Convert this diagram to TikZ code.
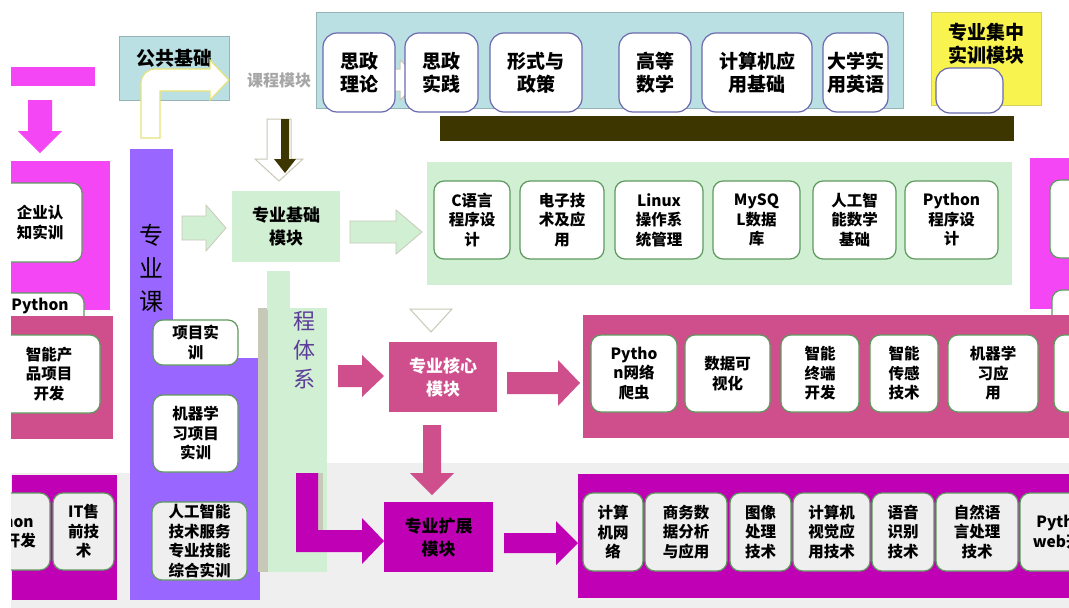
\documentclass[tikz,border=0pt]{standalone}
\usepackage{fontspec}
\setmainfont{Noto Sans CJK SC}
\definecolor{tealc}{HTML}{BBE0E3}
\definecolor{topb}{HTML}{6A6AB0}
\definecolor{olive2}{HTML}{3D3600}
\definecolor{yel}{HTML}{F8F34F}
\definecolor{magB}{HTML}{F446F4}
\definecolor{purp}{HTML}{9966FF}
\definecolor{lgreen}{HTML}{D1EFD3}
\definecolor{pinkc}{HTML}{CF4F8C}
\definecolor{magD}{HTML}{BF00B4}
\definecolor{lgray}{HTML}{EFEFEF}
\definecolor{bordg}{HTML}{5E9A5E}
\definecolor{arrl}{HTML}{C8C8B8}
\newcommand\boxfont{\fontsize{15.5}{19.5}\selectfont\bfseries}
\newcommand\topfont{\fontsize{19}{23}\selectfont\bfseries}
\newcommand\modfont{\fontsize{17}{23}\selectfont\bfseries}
\newcommand\boxat[7]{%
  \pgfmathsetmacro\bw{#5-#3}%
  \pgfmathsetmacro\bh{#6-#4}%
  \node[#1, minimum width=\bw pt, minimum height=\bh pt] (#2) at ({(#3+#5)/2},{(#4+#6)/2}) {#7};}
% horizontal block arrow: style, x1, x2, yc, shaft half, head half, head length
\newcommand\hbarrow[7]{\path[#1] (#2,#4-#5) -- (#3-#7,#4-#5) -- (#3-#7,#4-#6) -- (#3,#4) -- (#3-#7,#4+#6) -- (#3-#7,#4+#5) -- (#2,#4+#5) -- cycle;}
% vertical block arrow: style, y1, y2, xc, shaft half, head half, head length
\newcommand\vbarrow[7]{\path[#1] (#4-#5,#2) -- (#4-#5,#3-#7) -- (#4-#6,#3-#7) -- (#4,#3) -- (#4+#6,#3-#7) -- (#4+#5,#3-#7) -- (#4+#5,#2) -- cycle;}
\begin{document}
\begin{tikzpicture}[x=1pt,y=-1pt,
  panel/.style={inner sep=0pt, draw=none},
  rbox/.style={draw=bordg, line width=1.2pt, rounded corners=10pt, fill=white, align=center, inner sep=0pt, font=\boxfont, text=black},
  gbox/.style={rbox, fill=lgray},
  tbox/.style={rbox, draw=topb, rounded corners=14pt, font=\topfont},
  modbox/.style={panel, align=center, font=\modfont},
  whitearrow/.style={fill=white, draw=arrl, line width=1pt}]
\useasboundingbox (0,0) rectangle (1069,608);
\fill[white] (0,0) rectangle (1069,608);
% grey ground of the lower part
\fill[lgray] (11,473) rectangle (1069,608);
\fill[lgray] (282,463) rectangle (1069,473);

% ---------- top left ----------
\boxat{panel,fill=magB}{tlstripe}{11}{67}{95}{86}{}
\vbarrow{fill=magB}{100}{153}{40}{12}{22}{22}
\boxat{panel,fill=tealc,draw=tealc!80!black,line width=0.6pt}{gj}{119}{36}{229}{100}{}
\node[font=\topfont] (gjt) at (174,58) {公共基础};
\path[fill=white, draw=yel!60!arrl, line width=1.2pt]
  (141,138) -- (141,83) arc[start angle=180, end angle=270, radius=14] -- (210,69) -- (210,60) -- (229,80) -- (210,100) -- (210,91) -- (160,91) -- (160,138) -- cycle;
\node[font=\fontsize{16}{19}\selectfont\bfseries, text=gray!70] (kcmk) at (279,80) {课程模块};

% ---------- top panel ----------
\boxat{panel,fill=tealc,draw=tealc!80!black,line width=0.6pt}{toppanel}{316}{12}{903}{108}{}
\boxat{panel,fill=olive2}{olivebar}{440}{116}{1014}{141}{}
\hbarrow{whitearrow}{350}{422}{80}{11}{20}{22}
\boxat{tbox}{t1}{323}{33}{395}{112}{思政\\理论}
\boxat{tbox}{t2}{405}{33}{478}{112}{思政\\实践}
\boxat{tbox}{t3}{490}{33}{582}{112}{形式与\\政策}
\boxat{tbox}{t4}{619}{33}{691}{112}{高等\\数学}
\boxat{tbox}{t5}{702}{33}{812}{112}{计算机应\\用基础}
\boxat{tbox}{t6}{823}{33}{888}{112}{大学实\\用英语}
\boxat{panel,fill=yel,draw=yel!70!gray,line width=0.6pt}{jz}{931}{12}{1041}{105}{}
\boxat{tbox}{jzb}{936}{68}{1003}{113}{}
\node[font=\topfont, align=center, anchor=north] (jzt) at (986,20) {专业集中\\实训模块};

% ---------- left column ----------
\boxat{panel,fill=magB}{lmag}{11}{161}{110}{310}{}
\boxat{rbox}{qyrz}{-2}{183}{82}{262}{企业认\\知实训}
\boxat{rbox}{pyl}{-2}{293}{84}{380}{}
\node[font=\boxfont] (pylt) at (40,306) {Python};
\boxat{panel,fill=magB}{rmag}{1030}{158}{1090}{309}{}
\boxat{rbox}{rb1}{1050}{180}{1110}{258}{}
\boxat{rbox}{rb2}{1052}{290}{1110}{360}{}

\boxat{panel,fill=pinkc}{lpink}{11}{316}{113}{439}{}
\boxat{rbox}{lpb}{-2}{335}{100}{413}{智能产\\品项目\\开发}

\boxat{panel,fill=magD}{lmagd}{12}{475}{117}{600}{}
\boxat{gbox}{lmb1}{-40}{493}{50}{570}{Python\\项目开发}
\boxat{gbox}{lmb2}{53}{493}{114}{570}{IT售\\前技\\术}

% ---------- course system column ----------
\boxat{panel,fill=purp}{pcol}{130}{149}{173}{358}{}
\boxat{panel,fill=purp}{plow}{130}{358}{260}{600}{}
\node[font=\fontsize{24}{33}\selectfont, align=center] (zyk) at (151,268) {专\\业\\课};
\boxat{rbox}{xmsx}{153}{320}{238}{365}{项目实\\训}
\boxat{rbox}{jqxx}{153}{395}{238}{472}{机器学\\习项目\\实训}
\boxat{gbox}{rgzn}{152}{502}{247}{580}{人工智能\\技术服务\\专业技能\\综合实训}
\boxat{panel,fill=arrl}{gstrip}{258}{308}{268}{572}{}
\boxat{panel,fill=lgreen}{gnar}{267}{271}{290}{310}{}
\boxat{panel,fill=lgreen}{gwide}{268}{308}{327}{572}{}
\node[font=\fontsize{22}{29}\selectfont, align=center, text=purp!60!black] (ctx) at (304,350) {程\\体\\系};

% ---------- professional foundation module ----------
\vbarrow{whitearrow}{119}{181}{279}{12}{24}{22}
\vbarrow{fill=olive2}{119}{173}{285}{4}{11}{14}
\boxat{modbox,fill=lgreen}{zyjc}{232}{191}{340}{262}{专业基础\\模块}
\hbarrow{fill=lgreen,draw=arrl,line width=0.8pt}{182}{226}{228}{12}{23}{20}
\hbarrow{fill=lgreen,draw=arrl,line width=0.8pt}{350}{422}{232}{11}{22}{26}
\boxat{panel,fill=lgreen}{gpanel}{427}{162}{1012}{285}{}
\boxat{rbox}{g1}{434}{181}{510}{259}{C语言\\程序设\\计}
\boxat{rbox}{g2}{520}{181}{604}{259}{电子技\\术及应\\用}
\boxat{rbox}{g3}{615}{181}{703}{259}{Linux\\操作系\\统管理}
\boxat{rbox}{g4}{713}{181}{800}{259}{MySQ\\L数据\\库}
\boxat{rbox}{g5}{813}{181}{896}{259}{人工智\\能数学\\基础}
\boxat{rbox}{g6}{905}{181}{998}{259}{Python\\程序设\\计}

% ---------- professional core module ----------
\path[whitearrow] (410,309) -- (452,309) -- (431,332) -- cycle;
\hbarrow{fill=pinkc}{338}{384}{376}{11}{21}{22}
\boxat{modbox,fill=pinkc,text=white}{zyhx}{389}{342}{497}{412}{专业核心\\模块}
\hbarrow{fill=pinkc}{507}{580}{383}{11}{23}{22}
\boxat{panel,fill=pinkc}{ppanel}{583}{315}{1090}{438}{}
\boxat{rbox}{p1}{591}{335}{677}{412}{Pytho\\n网络\\爬虫}
\boxat{rbox}{p2}{685}{335}{770}{412}{数据可\\视化}
\boxat{rbox}{p3}{781}{335}{859}{412}{智能\\终端\\开发}
\boxat{rbox}{p4}{870}{335}{938}{412}{智能\\传感\\技术}
\boxat{rbox}{p5}{948}{335}{1038}{412}{机器学\\习应\\用}
\boxat{rbox}{p6}{1054}{335}{1110}{412}{}

% ---------- professional extension module ----------
\vbarrow{fill=pinkc}{425}{495}{432}{9}{22}{22}
\path[fill=arrl] (318,473) rectangle (323,530);
\path[fill=magD] (296,473) -- (296,552) -- (362,552) -- (362,564) -- (384,541) -- (362,518) -- (362,530) -- (318,530) -- (318,473) -- cycle;
\boxat{modbox,fill=magD}{zykz}{384}{502}{493}{572}{专业扩展\\模块}
\hbarrow{fill=magD}{504}{578}{543}{10}{22}{22}
\boxat{panel,fill=magD}{mpanel}{578}{474}{1090}{598}{}
\boxat{gbox}{m1}{583}{493}{643}{571}{计算\\机网\\络}
\boxat{gbox}{m2}{645}{493}{727}{571}{商务数\\据分析\\与应用}
\boxat{gbox}{m3}{730}{493}{791}{571}{图像\\处理\\技术}
\boxat{gbox}{m4}{793}{493}{870}{571}{计算机\\视觉应\\用技术}
\boxat{gbox}{m5}{872}{493}{934}{571}{语音\\识别\\技术}
\boxat{gbox}{m6}{936}{493}{1018}{571}{自然语\\言处理\\技术}
\boxat{gbox}{m7}{1020}{493}{1110}{571}{Python\\web开发}

% white margin on the left
\fill[white] (-50,0) rectangle (11,608);
\end{tikzpicture}
\end{document}
